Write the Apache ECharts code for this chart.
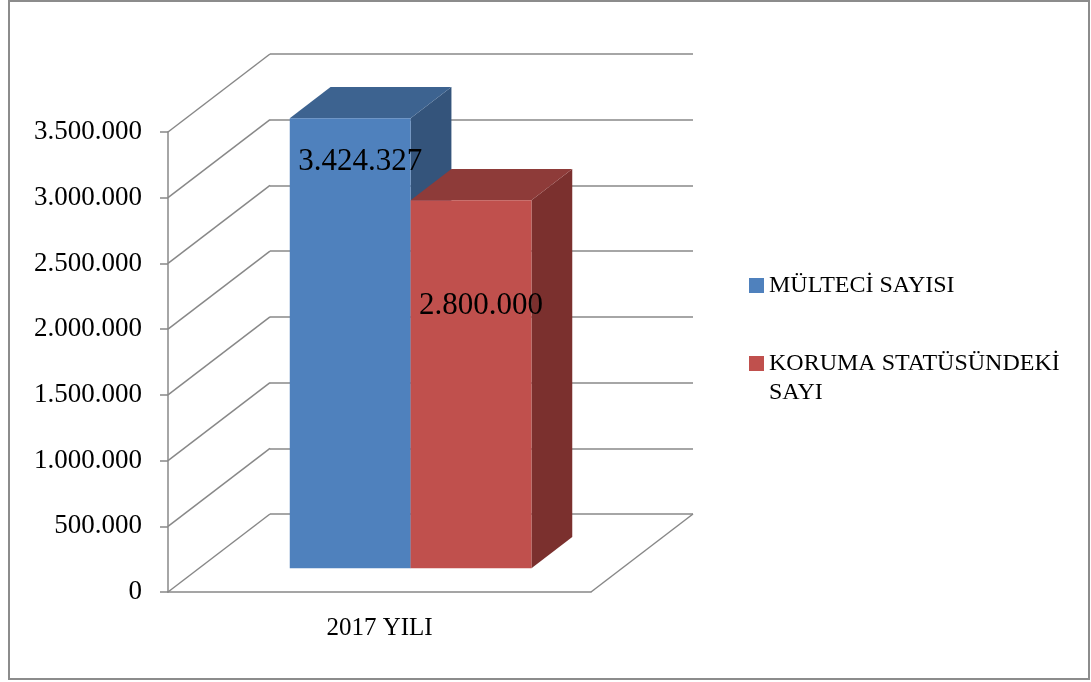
<!DOCTYPE html>
<html><head><meta charset="utf-8">
<script src="https://cdn.jsdelivr.net/npm/echarts@6/dist/echarts.min.js"></script>
<style>html,body{margin:0;padding:0;background:#fff}#c{width:1091px;height:682px}</style>
</head><body><div id="c"></div>
<script>
const categories = ['2017 YILI'];
const seriesNames = ['MÜLTECİ SAYISI', 'KORUMA STATÜSÜNDEKİ SAYI'];
const refugees = [3424327];
const protectedStatus = [2800000];
const yTicks = [0, 500000, 1000000, 1500000, 2000000, 2500000, 3000000, 3500000];

const FONT = 'Liberation Serif';
const DEPTH = [102, -78];
const BAR_FRONT = 0.305, BAR_BACK = 0.705;
const BAR_FRAC = 0.2857;
const GRID_COLOR = '#888888';

function fmt(v){ return String(Math.round(v)).replace(/\B(?=(\d{3})+(?!\d))/g, '.'); }

const palettes = [
  {front:'#4F81BD', top:'#3D6390', side:'#34547B', labelDy:44},
  {front:'#C0504D', top:'#8E3B39', side:'#7B302E', labelDy:106}
];

function barRender(sIdx, nSeries){
  return function(params, api){
    const cat = api.value(0);
    const val = api.value(1);
    const c = api.coord([cat, 0]);
    const top = api.coord([cat, val]);
    const band = api.size([1, 0])[0];
    const bw = band * BAR_FRAC;
    const fx = DEPTH[0]*BAR_FRONT, fy = DEPTH[1]*BAR_FRONT;
    const dx = DEPTH[0]*(BAR_BACK-BAR_FRONT), dy = DEPTH[1]*(BAR_BACK-BAR_FRONT);
    const x0 = c[0] + (sIdx - nSeries/2)*bw + fx;
    const x1 = x0 + bw;
    const yb = c[1] + fy;
    const yt = top[1] + fy;
    const p = palettes[sIdx];
    return {type:'group', children:[
      {type:'polygon', shape:{points:[[x1,yt],[x1+dx,yt+dy],[x1+dx,yb+dy],[x1,yb]]}, style:{fill:p.side}},
      {type:'polygon', shape:{points:[[x0,yt],[x0+dx,yt+dy],[x1+dx,yt+dy],[x1,yt]]}, style:{fill:p.top}},
      {type:'rect', shape:{x:x0,y:yt,width:bw,height:yb-yt}, style:{fill:p.front}},
      {type:'text', z2:10, x: x0 + bw/2 + 10, y: yt + p.labelDy, style:{text: fmt(val), font:'31px "'+FONT+'"', fill:'#000', align:'center', verticalAlign:'middle'}}
    ]};
  };
}

function wallRender(params, api){
  const v = api.value(1);
  const p = api.coord([0, v]);
  const band = api.size([1, 0])[0];
  const left = p[0] - band/2, right = p[0] + band/2;
  const ls = {stroke: GRID_COLOR, lineWidth: 1.5};
  const children = [
    {type:'line', shape:{x1:left, y1:p[1], x2:left+DEPTH[0], y2:p[1]+DEPTH[1]}, style:ls}
  ];
  if (v === 0) {
    children.push({type:'line', shape:{x1:right, y1:p[1], x2:right+DEPTH[0], y2:p[1]+DEPTH[1]}, style:ls});
  }
  return {type:'group', children};
}

const chart = echarts.init(document.getElementById('c'), null, {renderer:'canvas'});
chart.setOption({
  animation: false,
  backgroundColor: '#fff',
  textStyle: {fontFamily: FONT},
  graphic: [{type:'rect', shape:{x:9, y:1, width:1080, height:678}, style:{fill:null, stroke:'#8c8c8c', lineWidth:2}, z:-1}],
  grid: [
    {left:168, top:132, width:423, height:460},
    {left:270, top:54, width:423, height:460}
  ],
  xAxis: [
    {type:'category', gridIndex:0, data:categories,
      axisLine:{lineStyle:{color:GRID_COLOR, width:1.5}},
      axisTick:{length:8, lineStyle:{color:GRID_COLOR, width:1.5}},
      axisLabel:{fontSize:25, color:'#000', margin:24, fontFamily:FONT}},
    {type:'category', gridIndex:1, data:categories, show:false}
  ],
  yAxis: [
    {type:'value', gridIndex:0, min:0, max:3500000, interval:500000,
      axisLine:{show:true, lineStyle:{color:GRID_COLOR, width:1.5}},
      axisTick:{show:true, length:8, lineStyle:{color:GRID_COLOR, width:1.5}},
      splitLine:{show:false},
      axisLabel:{fontSize:27, color:'#000', margin:26, fontFamily:FONT, formatter: fmt}},
    {type:'value', gridIndex:1, min:0, max:3500000, interval:500000,
      axisLine:{show:false}, axisTick:{show:false}, axisLabel:{show:false},
      splitLine:{show:true, lineStyle:{color:GRID_COLOR, width:1.5}}}
  ],
  legend: [
    {data:[seriesNames[0]], left:744, top:266, itemWidth:15, itemHeight:15, icon:'rect',
      textStyle:{fontSize:24, color:'#000', fontFamily:FONT, lineHeight:29}},
    {data:[seriesNames[1]], left:744, top:315, itemWidth:15, itemHeight:15, icon:'rect',
      formatter: n => ' \n' + n.replace(' SAYI', '\nSAYI'),
      textStyle:{fontSize:24, color:'#000', fontFamily:FONT, lineHeight:29}}
  ],
  series: [
    {type:'custom', name:'walls', xAxisIndex:0, yAxisIndex:0, z:1, silent:true,
      renderItem: wallRender, data: yTicks.map(v => [0, v]), encode:{x:0, y:1}},
    {type:'custom', name:seriesNames[0], xAxisIndex:0, yAxisIndex:0, z:5,
      itemStyle:{color:palettes[0].front},
      renderItem: barRender(0, 2), data: refugees.map((v,i)=>[i, v]), encode:{x:0, y:1}},
    {type:'custom', name:seriesNames[1], xAxisIndex:0, yAxisIndex:0, z:6,
      itemStyle:{color:palettes[1].front},
      renderItem: barRender(1, 2), data: protectedStatus.map((v,i)=>[i, v]), encode:{x:0, y:1}}
  ]
});
</script></body></html>
